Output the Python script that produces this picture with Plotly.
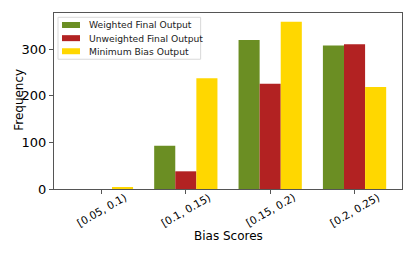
import plotly.graph_objects as go

categories = ["[0.05, 0.1)", "[0.1, 0.15)", "[0.15, 0.2)", "[0.2, 0.25)"]
weighted = [0, 93, 320, 308]
unweighted = [0, 38, 226, 311]
minimum_bias = [3, 238, 359, 219]
series_names = ["Weighted Final Output", "Unweighted Final Output", "Minimum Bias Output"]
colors = ["#6B8E23", "#B22222", "#FFD700"]
y_ticks = [0, 100, 200, 300]

# page body has an 8px margin; keep the figure inside the window
OFF = 8
W, H = 415 - 2 * OFF, 256 - 2 * OFF
# plot area in window pixels
X0, X1, Y0, Y1 = 54, 401.7, 13, 189.3
ML, MR = X0 - OFF, W - (X1 - OFF)
MT, MB = Y0 - OFF, H - (Y1 - OFF)
PW, PH = X1 - X0, Y1 - Y0

def px(x):
    return (x - X0) / PW

def py(y):
    return 1 - (y - Y0) / PH

font = "DejaVu Sans"
fig = go.Figure()
for name, vals, c in zip(series_names, [weighted, unweighted, minimum_bias], colors):
    fig.add_trace(go.Bar(x=categories, y=vals, name=name, marker_color=c,
                         marker_line_width=0, showlegend=False))

shapes = []
annotations = []
# legend box
shapes.append(dict(type="rect", xref="paper", yref="paper",
                   x0=px(58), x1=px(200.5), y0=py(59.3), y1=py(17.3),
                   line=dict(color="#d9d9d9", width=1), fillcolor="rgba(255,255,255,0.8)",
                   layer="above"))
row_y = [25, 38.2, 51.3]
for name, c, ry in zip(series_names, colors, row_y):
    shapes.append(dict(type="rect", xref="paper", yref="paper",
                       x0=px(62), x1=px(80), y0=py(ry + 3), y1=py(ry - 3),
                       line=dict(width=0), fillcolor=c, layer="above"))
    annotations.append(dict(text=name, xref="paper", yref="paper", x=px(86.5), y=py(ry),
                            xanchor="left", yanchor="middle", showarrow=False,
                            font=dict(size=9.2, family=font, color="#222")))
# x tick labels, rotated and centred on ticks like the reference
for cat in categories:
    annotations.append(dict(text=cat, xref="x", yref="paper", x=cat, y=py(210),
                            xanchor="center", yanchor="middle", textangle=-30,
                            showarrow=False, font=dict(size=10.5, family=font, color="black")))
# axis titles
annotations.append(dict(text="Bias Scores", xref="paper", yref="paper", x=px(228), y=py(236),
                        xanchor="center", yanchor="middle", showarrow=False,
                        font=dict(size=12, family=font, color="black")))
annotations.append(dict(text="Frequency", xref="paper", yref="paper", x=px(19), y=py(100),
                        xanchor="center", yanchor="middle", textangle=-90, showarrow=False,
                        font=dict(size=12, family=font, color="black")))

fig.update_layout(
    width=W, height=H,
    margin=dict(l=ML, r=MR, t=MT, b=MB, pad=0),
    paper_bgcolor="white", plot_bgcolor="white",
    barmode="group", bargap=0.25, bargroupgap=0,
    font=dict(family=font, color="black"),
    showlegend=False,
    shapes=shapes, annotations=annotations,
)
fig.update_xaxes(range=[-0.5625, 3.5625], showline=True, linecolor="#555", linewidth=1,
                 mirror=True, ticks="outside", ticklen=4, tickcolor="#555",
                 showticklabels=False, automargin=False)
fig.update_yaxes(range=[0, 378], showline=True, linecolor="#555", linewidth=1,
                 mirror=True, ticks="outside", ticklen=4, tickcolor="#555",
                 tickvals=y_ticks, tickfont=dict(size=13), showgrid=False, zeroline=False,
                 automargin=False)
fig.write_html("out.html")
